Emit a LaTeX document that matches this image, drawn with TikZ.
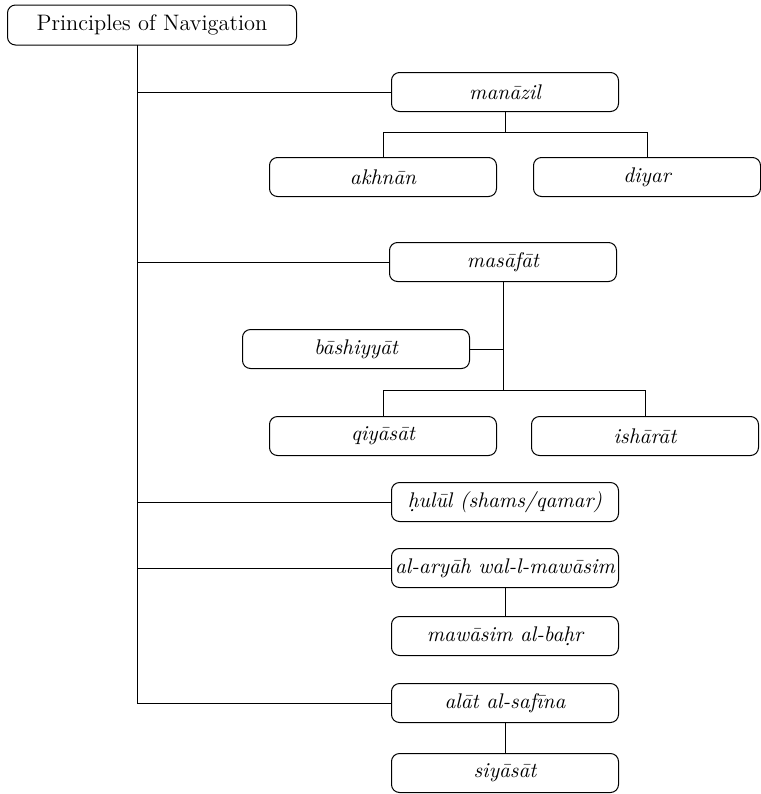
\documentclass[tikz,border=0pt]{standalone}
\usepackage{tikz}
\usetikzlibrary{positioning}

\begin{document}
\begin{tikzpicture}[
  x=0.5pt, y=-0.5pt,
  topic/.style={rectangle, draw, rounded corners=4pt, line width=0.5pt,
    minimum width=113.5pt, minimum height=19.5pt, inner xsep=0.5pt, inner ysep=2pt,
    font=\fontsize{10.6}{13}\selectfont\itshape},
  root/.style={topic, minimum width=144.5pt, minimum height=20pt,
    font=\fontsize{11.2}{13}\selectfont},
  every path/.style={line width=0.5pt},
]
  \useasboundingbox (0,0) rectangle (761,794);
  \node[root] (nav) at (152,25) {Principles of Navigation};

  \node[topic] (manazil) at (505,92) {manāzil};
  \node[topic] (akhnan) at (383,177) {akhnān};
  \node[topic] (diyar) at (647,177) {diyar};

  \node[topic] (masafat) at (503,262) {masāfāt};
  \node[topic] (bashiyyat) at (356,349) {bāshiyyāt};
  \node[topic] (qiyasat) at (383,436) {qiyāsāt};
  \node[topic] (isharat) at (645,436) {ishārāt};

  \node[topic] (hulul) at (505,502) {\d{h}ulūl (shams/qamar)};
  \node[topic] (aryah) at (505,568) {al-aryāh wal-l-mawāsim};
  \node[topic] (bahr) at (505,636) {mawāsim al-ba\d{h}r};
  \node[topic] (alat) at (505,703) {alāt al-safīna};
  \node[topic] (siyasat) at (505,773) {siyāsāt};

  \coordinate (trunk) at (137,45);
  \draw (trunk) |- (alat.west);
  \draw (trunk |- manazil.west) -- (manazil.west);
  \draw (trunk |- masafat.west) -- (masafat.west);
  \draw (trunk |- hulul.west) -- (hulul.west);
  \draw (trunk |- aryah.west) -- (aryah.west);

  \draw (manazil.south) -- ++(0,20) coordinate (mz) -| (akhnan.north);
  \draw (mz) -| (diyar.north);

  \draw (masafat.south) -- ++(0,108) coordinate (ms) -| (qiyasat.north);
  \draw (ms) -| (isharat.north);
  \draw (bashiyyat.east) -- (bashiyyat.east -| masafat.south);

  \draw (aryah) -- (bahr);
  \draw (alat) -- (siyasat);
\end{tikzpicture}
\end{document}
